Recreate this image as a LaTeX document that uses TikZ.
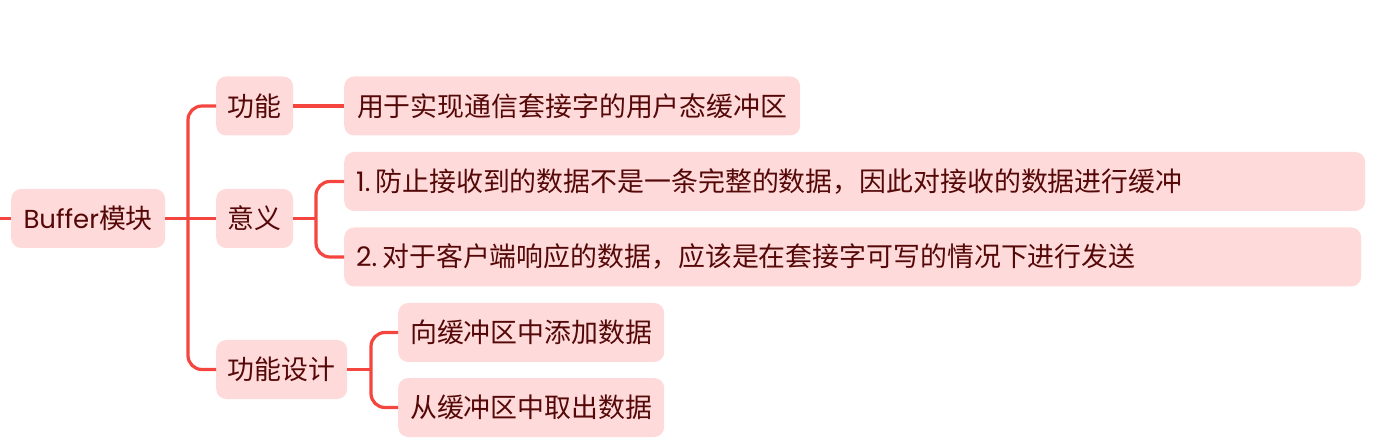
\documentclass[tikz,border=0pt]{standalone}
\usepackage{fontspec}
\setmainfont{Noto Sans CJK SC}
\newfontfamily\pop{Poppins}
\definecolor{boxfill}{HTML}{FFDADA}
\definecolor{txt}{HTML}{550808}
\definecolor{ln}{HTML}{F5453F}
\tikzset{
  mbox/.style={rectangle, rounded corners=10pt, fill=boxfill, text=txt,
    inner xsep=11pt, inner ysep=0pt, minimum height=59pt, anchor=west,
    font=\fontsize{26.9}{32}\selectfont},
  wide/.style={text width=#1, align=left},
  conn/.style={draw=ln, line width=3.2pt, rounded corners=14pt},
}
\begin{document}
\begin{tikzpicture}[x=1pt,y=-1pt]
\useasboundingbox (0,0) rectangle (1398,446);
\node[mbox, minimum width=154pt] (root) at (11,218.5) {{\pop\fontsize{26}{32}\selectfont Buffer}模块};
\node[mbox, minimum width=77pt] (gn) at (216,106) {功能};
\node[mbox, minimum width=77pt] (yy) at (216,218.5) {意义};
\node[mbox, minimum width=131pt] (gnsj) at (216,369.5) {功能设计};
\node[mbox, minimum width=456pt] (yt) at (344,106) {用于实现通信套接字的用户态缓冲区};
\node[mbox, wide=999pt] (c1) at (344,181.5) {\hspace{1pt}{\pop 1.}\hspace{5pt}防止接收到的数据不是一条完整的数据，因此对接收的数据进行缓冲};
\node[mbox, wide=995pt] (c2) at (344,257) {\hspace{1pt}{\pop 2.}\hspace{5pt}对于客户端响应的数据，应该是在套接字可写的情况下进行发送};
\node[mbox, minimum width=266pt] (d1) at (398,332.5) {向缓冲区中添加数据};
\node[mbox, minimum width=266pt] (d2) at (398,407.5) {从缓冲区中取出数据};
\coordinate (start) at (0,218.5);
\coordinate (t) at (188,218.5);
\coordinate (b1) at (316,218.5);
\coordinate (b2) at (371,369.5);
\draw[conn] (start) -- (root.west);
\draw[conn] (root.east) -- (yy.west);
\draw[conn] (gn.west) -| (t) |- (gnsj.west);
\draw[conn] (gn.east) -- (yt.west);
\draw[conn] (yy.east) -- (b1);
\draw[conn] (c1.west) -| (b1) |- (c2.west);
\draw[conn] (gnsj.east) -- (b2);
\draw[conn] (d1.west) -| (b2) |- (d2.west);
\end{tikzpicture}
\end{document}
